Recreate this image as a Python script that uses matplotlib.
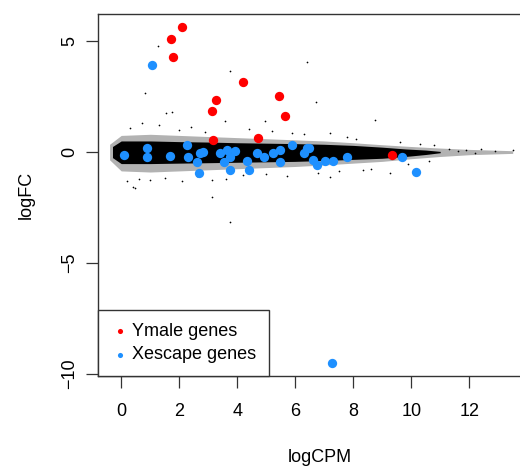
import matplotlib
matplotlib.use("Agg")
import matplotlib.pyplot as plt

plt.rcParams['font.family'] = ['Liberation Sans', 'DejaVu Sans']

# dense core of all genes: envelope (logCPM, logFC)
core_x = [-0.3, 0, 1, 2, 3, 4, 5, 6, 7, 8, 9, 9.8, 10.5, 11.0]
core_hi = [0.25, 0.5, 0.5, 0.47, 0.45, 0.42, 0.4, 0.38, 0.35, 0.3, 0.22, 0.14, 0.09, 0.03]
core_lo = [-0.25, -0.52, -0.52, -0.5, -0.48, -0.46, -0.44, -0.42, -0.38, -0.33, -0.28, -0.2, -0.11, -0.03]

# speckled halo round the core
halo_x = [-0.4, 0, 1, 2, 3, 4, 5, 6, 7, 8, 9, 10, 11, 12, 13.5]
halo_hi = [0.35, 0.75, 0.8, 0.75, 0.7, 0.65, 0.6, 0.55, 0.5, 0.42, 0.33, 0.25, 0.18, 0.12, 0.06]
halo_lo = [-0.35, -0.85, -0.9, -0.85, -0.8, -0.75, -0.7, -0.65, -0.58, -0.5, -0.42, -0.3, -0.2, -0.12, -0.06]

# scattered single genes outside the band
out_x = [1.28, 3.75, 6.41, 6.72, 0.82, 1.55, 1.76, 3.57, 4.95, 8.75, 7.21, 3.75, 3.14, 0.47,
         0.42, 1.0, 3.14, 7.2, 8.35, 9.28, 11.3, 11.6, 11.9, 12.2, 12.4, 12.9, 13.5,
         0.3, 0.7, 1.3, 2.0, 2.4, 2.9, 4.4, 5.2, 5.9, 6.3, 7.8, 8.1, 9.6, 10.3, 10.8,
         0.2, 0.6, 1.5, 2.1, 2.6, 3.6, 4.2, 5.0, 5.7, 6.8, 7.5, 8.6, 9.9, 10.6]
out_y = [4.79, 3.63, 4.05, 2.25, 2.66, 1.76, 1.80, 1.41, 1.41, 1.44, 0.85, -3.14, -2.01, -1.64,
         -1.56, -1.26, -1.26, -1.11, -0.81, -0.95, 0.15, 0.05, 0.1, -0.05, 0.12, 0.05, 0.08,
         1.1, 1.3, 1.2, 1.0, 1.15, 0.9, 1.05, 0.95, 0.85, 0.8, 0.7, 0.6, 0.45, 0.35, 0.3,
         -1.3, -1.2, -1.15, -1.3, -1.1, -1.2, -1.05, -1.0, -1.1, -0.95, -0.85, -0.75, -0.55, -0.4]

ymale_x = [2.08, 1.70, 1.79, 4.21, 3.26, 3.14, 5.43, 5.66, 3.17, 4.72, 9.33]
ymale_y = [5.62, 5.08, 4.27, 3.15, 2.34, 1.83, 2.51, 1.62, 0.54, 0.63, -0.14]

xesc_x = [1.05, 7.28, 10.15, 0.08, 0.89, 0.89, 1.69, 2.26, 2.32, 2.61, 2.72, 2.83, 2.67,
          3.41, 3.64, 3.76, 3.93, 3.53, 3.76, 4.33, 4.42, 4.68, 4.91, 5.25, 5.48, 5.48,
          5.89, 6.29, 6.46, 6.40, 6.63, 6.75, 7.03, 7.32, 7.78, 9.68]
xesc_y = [3.90, -9.50, -0.89, -0.14, 0.17, -0.21, -0.18, 0.32, -0.21, -0.44, -0.06, 0.01, -0.93,
          -0.03, 0.09, -0.21, 0.06, -0.44, -0.81, -0.41, -0.81, -0.06, -0.21, -0.06, 0.09, -0.44,
          0.32, -0.06, 0.17, 0.17, -0.36, -0.59, -0.39, -0.39, -0.21, -0.21]

fig = plt.figure(figsize=(5.2, 4.66), dpi=100)
ax = fig.add_axes([98/520, 1-376/466, (541.7-98)/520, (376-14)/466])

ax.fill_between(halo_x, halo_lo, halo_hi, color='#000000', alpha=0.3, lw=0)
ax.fill_between(core_x, core_lo, core_hi, color='#000000', lw=0)
ax.scatter(out_x, out_y, s=1.5, color='black', lw=0)

ax.scatter(ymale_x, ymale_y, s=45, color='#FF0000', lw=0, label='Ymale genes', zorder=3)
ax.scatter(xesc_x, xesc_y, s=45, color='#1E90FF', lw=0, label='Xescape genes', zorder=3)

ax.set_xlim(-0.8, 14.5)
ax.set_ylim(-10.09, 6.22)
ax.set_xticks([0, 2, 4, 6, 8, 10, 12])
ax.set_yticks([-10, -5, 0, 5])
ax.tick_params(length=8.5, width=0.9, color='#333333', labelsize=13)
ax.tick_params(axis='x', pad=11)
ax.tick_params(axis='y', pad=6)
plt.setp(ax.get_yticklabels(), rotation=90, va='center')
for sp in ax.spines.values():
    sp.set_color('#333333')
    sp.set_linewidth(1.0)

ax.set_xlabel('logCPM', fontsize=13, labelpad=21)
ax.set_ylabel('logFC', fontsize=13, labelpad=19)

leg = ax.legend(loc='lower left', borderaxespad=0, fancybox=False, edgecolor='#333333',
                framealpha=1, fontsize=13, markerscale=0.55, handletextpad=0.2,
                handlelength=1.0, borderpad=0.7, labelspacing=0.35)
leg.get_frame().set_linewidth(1.0)

fig.savefig('out.png', dpi=100)
